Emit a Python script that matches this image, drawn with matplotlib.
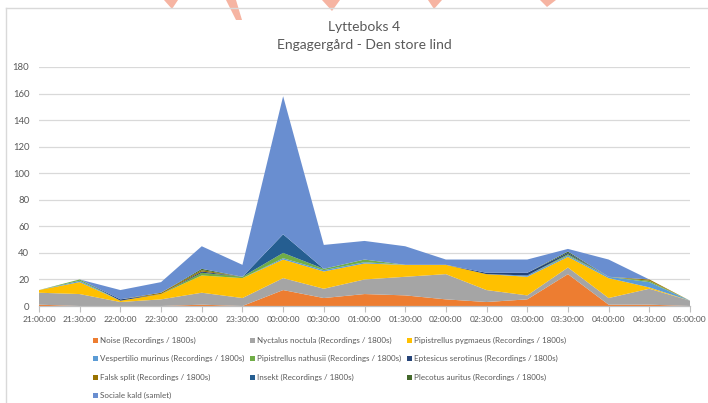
import numpy as np
import matplotlib
matplotlib.use("Agg")
import matplotlib.pyplot as plt
from matplotlib.patches import Rectangle, Polygon
from matplotlib.lines import Line2D

plt.rcParams["font.family"] = ["Lato", "DejaVu Sans"]

times = ["21:00:00", "21:30:00", "22:00:00", "22:30:00", "23:00:00", "23:30:00",
         "00:00:00", "00:30:00", "01:00:00", "01:30:00", "02:00:00", "02:30:00",
         "03:00:00", "03:30:00", "04:00:00", "04:30:00", "05:00:00"]

noise       = [1, 0, 0, 0, 1, 0, 12, 6, 9, 8, 5, 3, 5, 24, 1, 1, 0]
nyctalus    = [9, 9, 3, 5, 9, 6, 9, 7, 11, 14, 19, 9, 3, 5, 5, 12, 4]
pygmaeus    = [2, 9, 1, 4, 13, 15, 14, 13, 12, 9, 7, 12, 14, 8, 15, 1, 0]
vespertilio = [0, 1, 0, 0, 0, 0, 1, 1, 1, 0, 0, 0, 1, 1, 1, 4, 0]
nathusii    = [0, 1, 0, 0, 2, 1, 4, 1, 2, 0, 0, 0, 0, 1, 0, 1, 0]
eptesicus   = [0, 0, 1, 0, 1, 0, 0, 0, 0, 0, 0, 1, 2, 1, 0, 0, 0]
falsk       = [0, 0, 0, 1, 1, 0, 0, 0, 0, 0, 0, 0, 0, 0, 0, 1, 0]
insekt      = [0, 0, 0, 0, 0, 0, 14, 0, 0, 0, 0, 0, 0, 0, 0, 0, 0]
plecotus    = [0, 0, 0, 0, 1, 0, 0, 0, 0, 0, 0, 0, 0, 1, 0, 0, 0]
sociale     = [0, 0, 7, 8, 17, 9, 104, 18, 14, 14, 4, 10, 10, 2, 13, 0, 0]

series = [noise, nyctalus, pygmaeus, vespertilio, nathusii, eptesicus,
          falsk, insekt, plecotus, sociale]
labels = ["Noise (Recordings / 1800s)", "Nyctalus noctula (Recordings / 1800s)",
          "Pipistrellus pygmaeus (Recordings / 1800s)",
          "Vespertilio murinus (Recordings / 1800s)",
          "Pipistrellus nathusii (Recordings / 1800s)",
          "Eptesicus serotinus (Recordings / 1800s)",
          "Falsk split (Recordings / 1800s)", "Insekt (Recordings / 1800s)",
          "Plecotus auritus (Recordings / 1800s)", "Sociale kald (samlet)"]
colors = ["#ED7D31", "#A5A5A5", "#FFC000", "#5B9BD5", "#70AD47", "#264478",
          "#997300", "#255E91", "#43682B", "#698ED0"]

W, H = 708, 403
fig = plt.figure(figsize=(W / 100, H / 100), dpi=100)

# salmon marks bleeding in from the page background above the chart
marks = [[(164, 0), (178, 0), (172, 9)],
         [(226, 0), (236, 0), (242, 20), (236, 20)],
         [(322, 0), (340, 0), (332, 11)],
         [(428, 0), (442, 0), (434, 9)],
         [(540, 0), (556, 0), (547, 7)]]
for m in marks:
    fig.add_artist(Polygon([(px / W, 1 - py / H) for px, py in m],
                           closed=True, color="#F6B4A2", lw=0))

# chart frame
fig.add_artist(Line2D([6 / W, 6 / W], [0, 1 - 8 / H], color="#D9D9D9", lw=1))
fig.add_artist(Line2D([6 / W, 1], [1 - 8 / H, 1 - 8 / H], color="#D9D9D9", lw=1))

ax = fig.add_axes([39 / W, 1 - 306 / H, (690 - 39) / W, (306 - 67) / H])
x = np.arange(len(times))
ax.stackplot(x, *series, colors=colors, linewidth=0)

ax.set_xlim(0, len(times) - 1)
ax.set_ylim(0, 180)
ax.set_yticks(np.arange(0, 181, 20))
ax.set_xticks(x)
ax.set_xticklabels(times)
ax.yaxis.grid(True, color="#D9D9D9", lw=0.9)
ax.set_axisbelow(True)
for s in ["top", "right", "left"]:
    ax.spines[s].set_visible(False)
ax.spines["bottom"].set_color("#BFBFBF")
ax.spines["bottom"].set_linewidth(0.9)
ax.tick_params(axis="y", length=0, labelsize=6.8, labelcolor="#595959", pad=7)
ax.tick_params(axis="x", length=4, color="#BFBFBF", labelsize=6.1,
               labelcolor="#595959", pad=3)

fig.text(364 / W, 1 - 27 / H, "Lytteboks 4", ha="center", va="center",
         fontsize=10, color="#595959")
fig.text(364 / W, 1 - 45 / H, "Engagergård - Den store lind", ha="center",
         va="center", fontsize=10, color="#595959")

# legend, row by row
col_x = [93, 250, 407]
row_y = [340, 358, 377, 395]
for i, (lab, c) in enumerate(zip(labels, colors)):
    r, k = divmod(i, 3)
    fig.add_artist(Rectangle(((col_x[k]) / W, 1 - (row_y[r] + 2.5) / H),
                             5 / W, 5 / H, color=c, lw=0))
    fig.text((col_x[k] + 7) / W, 1 - row_y[r] / H, lab, ha="left",
             va="center", fontsize=5.8, color="#595959")

fig.savefig("out.png", dpi=100)
